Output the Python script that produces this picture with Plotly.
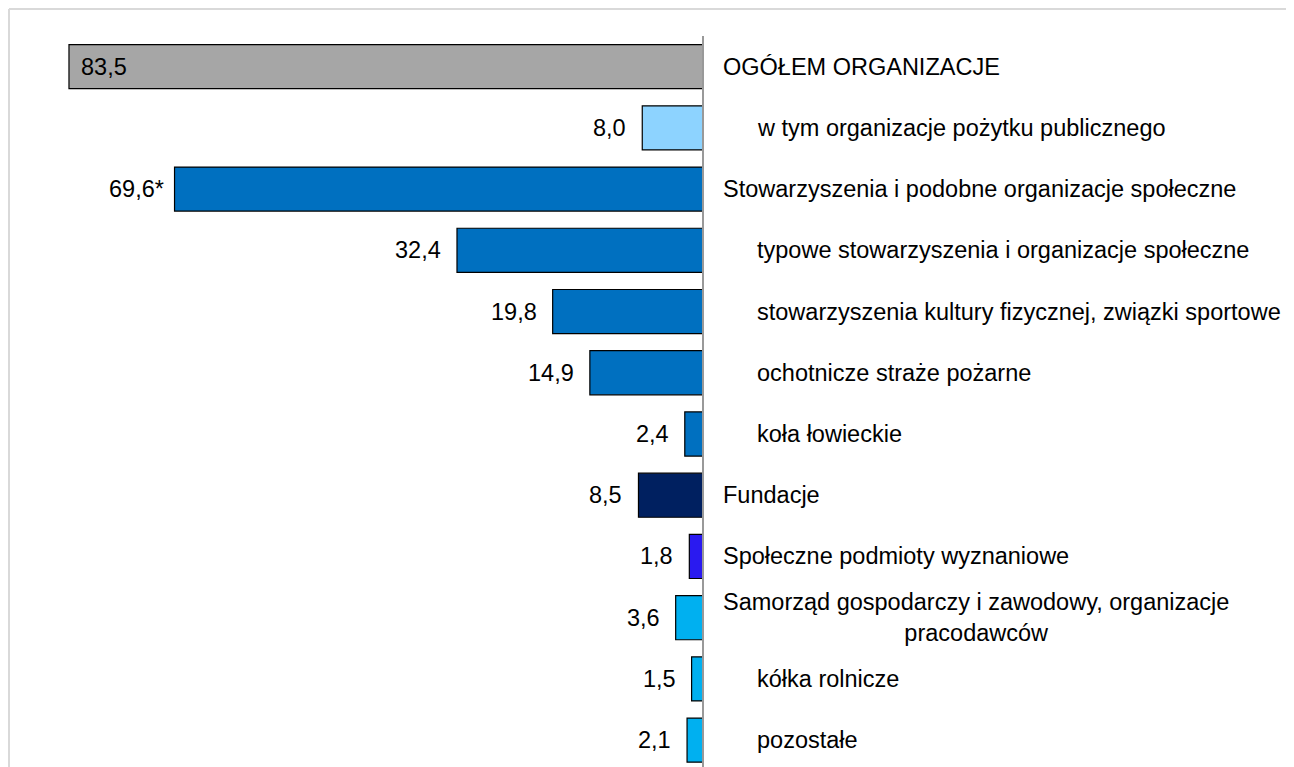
import plotly.graph_objects as go

categories = [
    "OGÓŁEM ORGANIZACJE",
    "w tym organizacje pożytku publicznego",
    "Stowarzyszenia i podobne organizacje społeczne",
    "typowe stowarzyszenia i organizacje społeczne",
    "stowarzyszenia kultury fizycznej, związki sportowe",
    "ochotnicze straże pożarne",
    "koła łowieckie",
    "Fundacje",
    "Społeczne podmioty wyznaniowe",
    "Samorząd gospodarczy i zawodowy, organizacje<br>pracodawców",
    "kółka rolnicze",
    "pozostałe",
]
values = [83.5, 8.0, 69.6, 32.4, 19.8, 14.9, 2.4, 8.5, 1.8, 3.6, 1.5, 2.1]
value_labels = ["83,5", "8,0", "69,6*", "32,4", "19,8", "14,9", "2,4", "8,5", "1,8", "3,6", "1,5", "2,1"]
indented = [False, True, False, True, True, True, True, False, False, False, True, True]
colors = ["#A6A6A6", "#8DD3FF", "#0070C0", "#0070C0", "#0070C0", "#0070C0", "#0070C0",
          "#002060", "#2A1AF0", "#00B0F0", "#00B0F0", "#00B0F0"]

FONT = "Liberation Sans, Arial, sans-serif"
FS = 23.5

W, H = 1286, 759        # page body has an 8px margin
TOP = 28                # top of plot area
PLOT_H = H - TOP
AXIS_X = 695            # pixel of the zero line
PX_PER_UNIT = 7.593

fig = go.Figure()
fig.add_trace(go.Bar(
    x=values, y=categories, orientation="h",
    marker=dict(color=colors, line=dict(color="black", width=1.2)),
    width=0.72, hoverinfo="skip",
))

annotations = []
for i, (cat, v, lab, ind) in enumerate(zip(categories, values, value_labels, indented)):
    if i == 0:
        annotations.append(dict(x=v, y=cat, xref="x", yref="y", text=lab, showarrow=False,
                                xanchor="left", xshift=10, font=dict(size=FS, color="black", family=FONT)))
    else:
        annotations.append(dict(x=v, y=cat, xref="x", yref="y", text=lab, showarrow=False,
                                xanchor="right", xshift=(-9 if lab.endswith("*") else -14),
                                font=dict(size=FS, color="black", family=FONT)))
    annotations.append(dict(x=0, y=cat, xref="x", yref="y", text=cat, showarrow=False,
                            xanchor="left", align="center", xshift=(52 if ind else 18),
                            font=dict(size=FS, color="black", family=FONT)))

frame_top = 1 + (TOP - 1) / PLOT_H
frame_left = 1 / W
shapes = [
    dict(type="line", xref="x", yref="paper", x0=0, x1=0, y0=0, y1=1,
         line=dict(color="#999999", width=2), layer="above"),
    dict(type="line", xref="paper", yref="paper", x0=frame_left, x1=1.0, y0=frame_top, y1=frame_top,
         line=dict(color="#D9D9D9", width=2)),
    dict(type="line", xref="paper", yref="paper", x0=frame_left, x1=frame_left, y0=0, y1=frame_top,
         line=dict(color="#D9D9D9", width=2)),
]

xmax = AXIS_X / PX_PER_UNIT
xright = (W - AXIS_X) / PX_PER_UNIT
row_px = 61.23
y_bottom = PLOT_H / row_px - 0.5

fig.update_layout(
    width=W, height=H,
    margin=dict(l=0, r=0, t=TOP, b=0),
    paper_bgcolor="white", plot_bgcolor="white",
    showlegend=False,
    xaxis=dict(range=[xmax, -xright], showgrid=False, zeroline=False, showticklabels=False,
               showline=False, ticks=""),
    yaxis=dict(range=[y_bottom, -0.5], showgrid=False, zeroline=False, showticklabels=False,
               showline=False, ticks=""),
    annotations=annotations,
    shapes=shapes,
    font=dict(family=FONT, size=FS, color="black"),
)

fig.write_html("out.html")
